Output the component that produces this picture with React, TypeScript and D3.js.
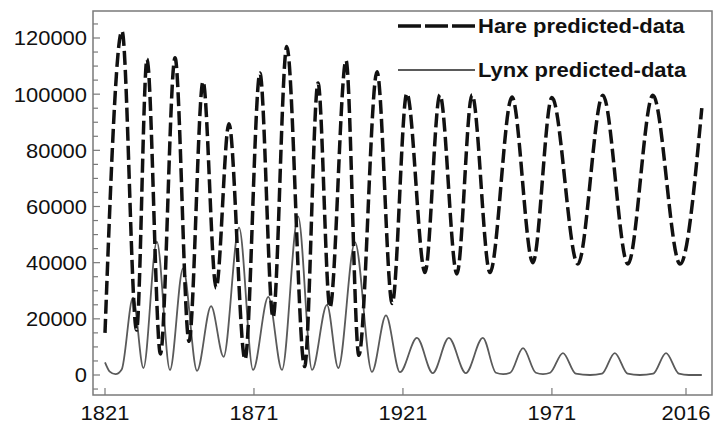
import React from "react";
import * as d3 from "d3";

// Predicted populations (Hudson's Bay style hare / lynx cycles), key turning points per cycle
const hareYears = [
  1821.0, 1826.7, 1831.6, 1835.1, 1839.6, 1844.5, 1849.2, 1853.9, 1858.3, 1862.6,
  1868.0, 1873.0, 1877.4, 1882.0, 1888.0, 1892.5, 1896.5, 1901.9, 1906.2, 1912.3,
  1917.4, 1922.3, 1928.4, 1933.4, 1939.1, 1944.2, 1950.2, 1957.6, 1964.6, 1971.0,
  1979.7, 1988.1, 1996.5, 2004.9, 2014.0, 2021.3,
];
const hareValues = [
  15000, 122500, 16000, 112500, 7500, 113000, 12000, 104500, 31000, 89500,
  5500, 107500, 20500, 117000, 3000, 104000, 24000, 112000, 7000, 108000,
  25500, 100300, 36500, 99800, 36000, 99800, 36500, 99000, 40000, 98800,
  39500, 99600, 39500, 99600, 39500, 95000,
];

const lynxYears = [
  1821.0, 1822.6, 1824.5, 1826.6, 1830.4, 1833.9, 1838.4, 1842.8, 1847.2, 1851.9,
  1856.6, 1860.8, 1866.0, 1870.7, 1875.8, 1880.4, 1885.8, 1890.5, 1895.5, 1899.3,
  1904.9, 1910.6, 1915.3, 1920.0, 1925.7, 1931.0, 1936.4, 1942.1, 1947.8, 1952.2,
  1954.6, 1957.0, 1961.3, 1965.6, 1968.0, 1970.4, 1974.7, 1979.0, 1983.8, 1987.8,
  1992.1, 1996.4, 2000.5, 2005.0, 2009.3, 2013.6, 2017.0, 2021.3,
];
const lynxValues = [
  4500, 1200, 300, 2000, 27500, 2500, 47500, 1800, 38000, 1500,
  24500, 6500, 52500, 1800, 27800, 1800, 56500, 1800, 25000, 2500,
  47300, 1100, 21200, 1000, 13200, 700, 13200, 700, 13200, 800,
  300, 800, 9600, 800, 300, 800, 7800, 500, 0, 500,
  7800, 500, 0, 500, 7800, 500, 0, 0,
];

const xTicks = [1821, 1871, 1921, 1971, 2016];
const yTicks = [0, 20000, 40000, 60000, 80000, 100000, 120000];
const yMinorTicks = d3.range(-5000, 125001, 5000);

const legendLabels = ["Hare predicted-data", "Lynx predicted-data"];

const W = 714;
const H = 424;
const frame = { left: 93, right: 712, top: 11, bottom: 395 };
const FONT = "'Liberation Sans', Arial, Helvetica, sans-serif";

export default function App() {
  const x = d3.scaleLinear().domain([1821, 2016]).range([105, 686]);
  const y = d3.scaleLinear().domain([0, 120000]).range([375, 38]);

  const line = d3
    .line<[number, number]>()
    .x((d) => x(d[0]))
    .y((d) => y(d[1]))
    .curve(d3.curveMonotoneX);

  const hare: [number, number][] = hareYears.map((yr, i) => [yr, hareValues[i]]);
  const lynx: [number, number][] = lynxYears.map((yr, i) => [yr, lynxValues[i]]);

  const axisColor = "#7a7a7a";

  return (
    <div style={{ position: "absolute", left: 0, top: 0 }}>
      <svg width={W} height={H} style={{ display: "block", background: "#fff" }}>
        <defs>
          <clipPath id="plot-clip">
            <rect
              x={frame.left}
              y={frame.top}
              width={frame.right - frame.left}
              height={frame.bottom - frame.top}
            />
          </clipPath>
        </defs>

        {/* y ticks, inward */}
        {yMinorTicks.map((v) => (
          <line
            key={"ym" + v}
            x1={frame.left}
            x2={frame.left + (v % 20000 === 0 ? 7 : 5)}
            y1={y(v)}
            y2={y(v)}
            stroke={axisColor}
            strokeWidth={1.2}
          />
        ))}
        {yTicks.map((v) => (
          <g key={"yl" + v} transform={`translate(87,${y(v)}) scale(1.07,1)`}>
            <text
              x={0}
              y={0}
              dy="0.36em"
              textAnchor="end"
              fontFamily={FONT}
              fontSize={20.5}
              fill="#111"
            >
              {v}
            </text>
          </g>
        ))}

        {/* x ticks, inward */}
        {xTicks.map((t) => (
          <g key={"xt" + t}>
            <line
              x1={x(t)}
              x2={x(t)}
              y1={frame.bottom}
              y2={frame.bottom - 7}
              stroke={axisColor}
              strokeWidth={1.2}
            />
            <g transform={`translate(${x(t)},420) scale(1.07,1)`}>
              <text x={0} y={0} textAnchor="middle" fontFamily={FONT} fontSize={20.5} fill="#111">
                {t}
              </text>
            </g>
          </g>
        ))}

        <g clipPath="url(#plot-clip)">
          <path d={line(lynx) ?? ""} fill="none" stroke="#5a5a5a" strokeWidth={1.8} />
          <path
            d={line(hare) ?? ""}
            fill="none"
            stroke="#111"
            strokeWidth={3.5}
            strokeDasharray="14 5"
          />
        </g>

        {/* frame */}
        <rect
          x={frame.left}
          y={frame.top}
          width={frame.right - frame.left}
          height={frame.bottom - frame.top}
          fill="none"
          stroke={axisColor}
          strokeWidth={1.5}
        />

        {/* legend */}
        <line x1={398} x2={475} y1={26} y2={26} stroke="#111" strokeWidth={3.4} strokeDasharray="23 4" />
        <g transform="translate(478,33) scale(1.1,1)">
          <text x={0} y={0} fontFamily={FONT} fontSize={20} fontWeight="bold" fill="#111">
            {legendLabels[0]}
          </text>
        </g>
        <line x1={398} x2={475} y1={70} y2={70} stroke="#5a5a5a" strokeWidth={1.8} />
        <g transform="translate(478,77) scale(1.1,1)">
          <text x={0} y={0} fontFamily={FONT} fontSize={20} fontWeight="bold" fill="#111">
            {legendLabels[1]}
          </text>
        </g>
      </svg>
    </div>
  );
}
